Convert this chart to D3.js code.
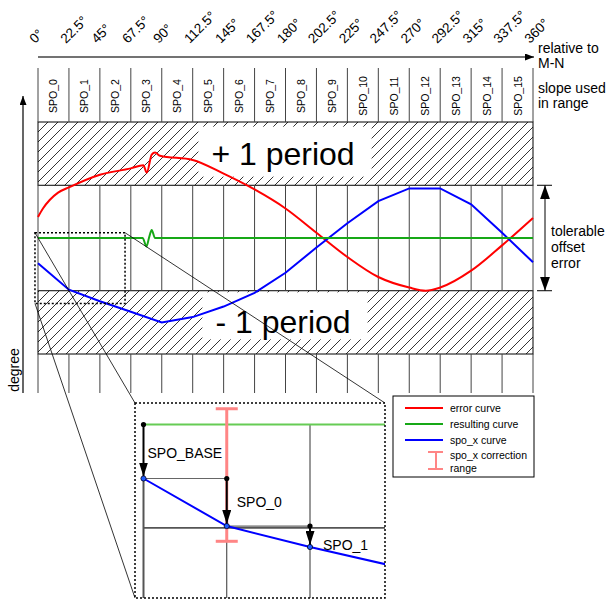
<html>
<head>
<title>spo correction</title>
<script src="https://cdnjs.cloudflare.com/ajax/libs/d3/7.8.5/d3.min.js"></script>
<style>
body { margin: 0; background: #fff; }
svg text { font-family: "Liberation Sans", Arial, sans-serif; fill: #000; }
</style>
</head>
<body>
<div id="vis_container"></div>
<script>

    var width = 610;
    var height = 599;

    // column edges in degrees relative to M-N and the labels written above them
    var columnEdges = [0, 22.5, 45, 67.5, 90, 112.5, 135, 157.5, 180, 202.5, 225, 247.5, 270, 292.5, 315, 337.5, 360];
    var angleLabels = ["0°", "22.5°", "45°", "67.5°", "90°", "112.5°", "145°", "167.5°", "180°", "202.5°",
                       "225°", "247.5°", "270°", "292.5°", "315°", "337.5°", "360°"];
    var spoLabels = ["SPO_0", "SPO_1", "SPO_2", "SPO_3", "SPO_4", "SPO_5", "SPO_6", "SPO_7",
                     "SPO_8", "SPO_9", "SPO_10", "SPO_11", "SPO_12", "SPO_13", "SPO_14", "SPO_15"];

    // curves: [angle in degrees, offset in periods]
    var errorCurve = [[0, 0.20], [3.6, 0.28], [8.5, 0.36], [14.6, 0.43], [22.5, 0.48], [45, 0.60], [67.5, 0.66],
                      [76.6, 0.69], [79.1, 0.62], [82.7, 0.79], [85.1, 0.81], [88.7, 0.78], [112.5, 0.74],
                      [135, 0.61], [157.5, 0.46], [180, 0.28], [202.5, 0.05], [225, -0.18], [247.5, -0.37],
                      [270, -0.47], [282, -0.50], [292.5, -0.47], [315, -0.31], [337.5, -0.07], [360, 0.19]];
    var resultCurve = [[0, 0], [76.1, 0], [78.9, -0.08], [80.7, 0], [82.7, 0.075], [85.1, 0], [360, 0]];
    // spo_x curve, one value per column edge
    var spoValues = [-0.24, -0.49, -0.60, -0.70, -0.80, -0.75, -0.65, -0.52, -0.33, -0.09,
                     0.14, 0.35, 0.47, 0.47, 0.32, 0.05, -0.23];

    var periodBands = [[0.5, 1.1], [-1.1, -0.5]];
    var periodLabels = ["+ 1 period", "- 1 period"];
    var tolerableRange = [-0.5, 0.5];

    // part of the chart shown enlarged below
    var zoomAngles = [-2.2, 63.3];
    var zoomOffsets = [0.05, -0.62];
    var correctionRange = [0.07, -0.57];
    var stepLabels = ["SPO_BASE", "SPO_0", "SPO_1"];

    var legendNames = ["error curve", "resulting curve", "spo_x curve", "spo_x correction", "range"];

    var colors = { error: "#ff0000", result: "#17a817", resultLight: "#66cc55", spo: "#0000ff", range: "#ff8585" };

    var svg = d3.select("#vis_container")
                .append("svg")
                .attr("width", width)
                .attr("height", height);

    var x = d3.scaleLinear().domain([0, 360]).range([38, 533]);
    var y = d3.scaleLinear().domain([-1.1, 1.1]).range([354, 122]);

    var defs = svg.append("defs");
    var hatch = defs.append("pattern")
        .attr("id", "hatch")
        .attr("patternUnits", "userSpaceOnUse")
        .attr("width", 10).attr("height", 10);
    hatch.append("path")
        .attr("d", "M-1,1 l2,-2 M0,10 l10,-10 M9,11 l2,-2")
        .attr("stroke", "#000").attr("stroke-width", 0.8);

    function arrowMarker(id, len, wid) {
        defs.append("marker")
            .attr("id", id)
            .attr("viewBox", "0 0 10 10")
            .attr("preserveAspectRatio", "none")
            .attr("refX", 10).attr("refY", 5)
            .attr("markerUnits", "userSpaceOnUse")
            .attr("markerWidth", len).attr("markerHeight", wid)
            .attr("orient", "auto-start-reverse")
            .append("path")
            .attr("d", "M0,0 L10,5 L0,10 z")
            .attr("fill", "#000");
    }
    arrowMarker("arrowSmall", 9, 7);
    arrowMarker("arrowBig", 14, 10);
    arrowMarker("arrowStep", 14, 9);

    var bandTop = y(tolerableRange[1]);
    var bandBottom = y(tolerableRange[0]);

    // hatched +/- 1 period bands
    var bands = svg.append("g").attr("class", "bands");
    bands.selectAll("rect")
        .data(periodBands)
        .enter().append("rect")
        .attr("x", x(0))
        .attr("y", function(d) { return y(d[1]); })
        .attr("width", x(360) - x(0))
        .attr("height", function(d) { return y(d[0]) - y(d[1]); })
        .attr("fill", "url(#hatch)")
        .attr("stroke", "#000")
        .attr("stroke-width", 1);

    periodBands.forEach(function(d, i) {
        var mid = (y(d[0]) + y(d[1])) / 2;
        var box = bands.append("rect").attr("fill", "#fff");
        var t = bands.append("text")
            .attr("x", 283)
            .attr("y", mid + 11)
            .attr("text-anchor", "middle")
            .style("font-size", "32px")
            .text(periodLabels[i]);
        var bb = t.node().getBBox();
        box.attr("x", bb.x - 13).attr("width", bb.width + 30)
           .attr("y", i == 0 ? mid - 27 : mid - 30).attr("height", i == 0 ? 50 : 47);
    });

    // column lines in the tolerable band and below the bands
    svg.append("g").selectAll("line")
        .data(columnEdges)
        .enter().append("line")
        .attr("x1", function(d) { return x(d); })
        .attr("x2", function(d) { return x(d); })
        .attr("y1", bandTop).attr("y2", bandBottom)
        .attr("stroke", "#444").attr("stroke-width", 1);

    svg.append("g").selectAll("line")
        .data(columnEdges)
        .enter().append("line")
        .attr("x1", function(d) { return x(d); })
        .attr("x2", function(d) { return x(d); })
        .attr("y1", y(periodBands[1][0])).attr("y2", 393)
        .attr("stroke", "#444").attr("stroke-width", 1);

    // slope boxes
    svg.append("g").selectAll("line")
        .data(columnEdges)
        .enter().append("line")
        .attr("x1", function(d) { return x(d); })
        .attr("x2", function(d) { return x(d); })
        .attr("y1", 68).attr("y2", y(periodBands[0][1]))
        .attr("stroke", "#444").attr("stroke-width", 1);

    svg.append("g").selectAll("text")
        .data(spoLabels)
        .enter().append("text")
        .attr("transform", function(d, i) {
            return "translate(" + ((x(columnEdges[i]) + x(columnEdges[i + 1])) / 2 + 4) + ",96) rotate(-90)";
        })
        .attr("text-anchor", "middle")
        .style("font-size", "10.5px")
        .text(function(d) { return d; });

    // top axis
    svg.append("line")
        .attr("x1", x(0)).attr("x2", x(360) + 1)
        .attr("y1", 57).attr("y2", 57)
        .attr("stroke", "#444").attr("stroke-width", 1.3)
        .attr("marker-end", "url(#arrowSmall)");

    svg.append("g").selectAll("text")
        .data(angleLabels)
        .enter().append("text")
        .attr("transform", function(d, i) { return "translate(" + (x(columnEdges[i]) - 3) + ",44) rotate(-45)"; })
        .style("font-size", "13.5px")
        .text(function(d) { return d; });

    var sideText = svg.append("g").style("font-size", "14px");
    [["relative to", 53], ["M-N", 68], ["slope used", 93], ["in range", 108]].forEach(function(d) {
        sideText.append("text").attr("x", 538).attr("y", d[1]).text(d[0]);
    });
    [["tolerable", 236], ["offset", 252], ["error", 268]].forEach(function(d) {
        sideText.append("text").attr("x", 551).attr("y", d[1]).text(d[0]);
    });

    // tolerable offset error arrow
    svg.append("line")
        .attr("x1", 545).attr("x2", 545)
        .attr("y1", bandTop).attr("y2", bandBottom)
        .attr("stroke", "#000").attr("stroke-width", 1)
        .attr("marker-start", "url(#arrowBig)")
        .attr("marker-end", "url(#arrowBig)");
    [bandTop, bandBottom].forEach(function(v) {
        svg.append("line").attr("x1", 537).attr("x2", 552).attr("y1", v).attr("y2", v)
            .attr("stroke", "#000").attr("stroke-width", 1);
    });

    // degree axis
    svg.append("line")
        .attr("x1", 23).attr("x2", 23)
        .attr("y1", 393).attr("y2", 96)
        .attr("stroke", "#000").attr("stroke-width", 1.2)
        .attr("marker-end", "url(#arrowSmall)");
    svg.append("text")
        .attr("transform", "translate(19,370) rotate(-90)")
        .attr("text-anchor", "middle")
        .style("font-size", "14px")
        .text("degree");

    // curves
    var curveLine = d3.line()
        .x(function(d) { return x(d[0]); })
        .y(function(d) { return y(d[1]); })
        .curve(d3.curveMonotoneX);
    var spoLine = d3.line()
        .x(function(d, i) { return x(columnEdges[i]); })
        .y(function(d) { return y(d); });

    svg.append("path").datum(errorCurve).attr("d", curveLine)
        .attr("fill", "none").attr("stroke", colors.error).attr("stroke-width", 2);
    svg.append("path").datum(spoValues).attr("d", spoLine)
        .attr("fill", "none").attr("stroke", colors.spo).attr("stroke-width", 2);
    svg.append("path").datum(resultCurve).attr("d", curveLine)
        .attr("fill", "none").attr("stroke", colors.result).attr("stroke-width", 2);

    // zoom window and its enlarged view
    var zx0 = x(zoomAngles[0]), zx1 = x(zoomAngles[1]);
    var zy0 = y(zoomOffsets[0]), zy1 = y(zoomOffsets[1]);
    var inset = { x0: 135, x1: 385, y0: 403, y1: 598 };

    svg.append("rect")
        .attr("x", zx0).attr("y", zy0)
        .attr("width", zx1 - zx0).attr("height", zy1 - zy0)
        .attr("fill", "none").attr("stroke", "#000")
        .attr("stroke-width", 1.5).attr("stroke-dasharray", "2,2");

    var links = [[zx0, zy0, inset.x0, inset.y0], [zx0, zy1, inset.x0, inset.y1], [zx1, zy0, inset.x1, inset.y0]];
    svg.append("g").selectAll("line")
        .data(links)
        .enter().append("line")
        .attr("x1", function(d) { return d[0]; }).attr("y1", function(d) { return d[1]; })
        .attr("x2", function(d) { return d[2]; }).attr("y2", function(d) { return d[3]; })
        .attr("stroke", "#000").attr("stroke-width", 0.8);

    var xIn = d3.scaleLinear().domain([0, 45]).range([143.5, 310]);
    var yIn = d3.scaleLinear().domain([0, spoValues[0], spoValues[2]]).range([424.5, 478.5, 547]);

    defs.append("clipPath").attr("id", "insetClip")
        .append("rect")
        .attr("x", inset.x0).attr("y", inset.y0)
        .attr("width", inset.x1 - inset.x0).attr("height", inset.y1 - inset.y0);

    var zoomG = svg.append("g").attr("clip-path", "url(#insetClip)");

    // band edge and column lines
    zoomG.append("line")
        .attr("x1", xIn(0)).attr("x2", inset.x1)
        .attr("y1", yIn(tolerableRange[0])).attr("y2", yIn(tolerableRange[0]))
        .attr("stroke", "#555").attr("stroke-width", 1.8);
    zoomG.append("line")
        .attr("x1", xIn(0)).attr("x2", xIn(0))
        .attr("y1", yIn(spoValues[0])).attr("y2", inset.y1)
        .attr("stroke", "#555").attr("stroke-width", 2);
    zoomG.selectAll(".col")
        .data(columnEdges.slice(1, 3))
        .enter().append("line")
        .attr("class", "col")
        .attr("x1", function(d) { return xIn(d); }).attr("x2", function(d) { return xIn(d); })
        .attr("y1", yIn(0)).attr("y2", inset.y1)
        .attr("stroke", "#333").attr("stroke-width", 1);

    // step reference lines
    zoomG.append("line")
        .attr("x1", xIn(0)).attr("x2", xIn(columnEdges[1]))
        .attr("y1", yIn(spoValues[0])).attr("y2", yIn(spoValues[0]))
        .attr("stroke", "#666").attr("stroke-width", 1.2);
    zoomG.append("line")
        .attr("x1", xIn(columnEdges[1])).attr("x2", xIn(columnEdges[2]))
        .attr("y1", yIn(spoValues[1])).attr("y2", yIn(spoValues[1]))
        .attr("stroke", "#666").attr("stroke-width", 1.2);

    // resulting curve
    zoomG.append("line")
        .attr("x1", xIn(0) + 2).attr("x2", inset.x1)
        .attr("y1", yIn(0)).attr("y2", yIn(0))
        .attr("stroke", colors.resultLight).attr("stroke-width", 2);

    // correction range
    var rx = xIn(columnEdges[1]);
    zoomG.append("line")
        .attr("x1", rx).attr("x2", rx)
        .attr("y1", yIn(correctionRange[0])).attr("y2", yIn(correctionRange[1]))
        .attr("stroke", colors.range).attr("stroke-width", 3);
    correctionRange.forEach(function(v) {
        zoomG.append("line")
            .attr("x1", rx - 11).attr("x2", rx + 11)
            .attr("y1", yIn(v)).attr("y2", yIn(v))
            .attr("stroke", colors.range).attr("stroke-width", 3);
    });

    // spo curve enlarged
    var spoIn = d3.line()
        .x(function(d, i) { return xIn(columnEdges[i]); })
        .y(function(d) { return yIn(d); });
    zoomG.append("path").datum(spoValues.slice(0, 5)).attr("d", spoIn)
        .attr("fill", "none").attr("stroke", colors.spo).attr("stroke-width", 2);

    // step arrows: from previous level down to the spo point
    var steps = [
        { a: 0, from: 0, to: spoValues[0] },
        { a: columnEdges[1], from: spoValues[0], to: spoValues[1] },
        { a: columnEdges[2], from: spoValues[1], to: spoValues[2] }
    ];
    zoomG.selectAll(".step")
        .data(steps)
        .enter().append("line")
        .attr("class", "step")
        .attr("x1", function(d) { return xIn(d.a); }).attr("x2", function(d) { return xIn(d.a); })
        .attr("y1", function(d) { return yIn(d.from); })
        .attr("y2", function(d) { return yIn(d.to) - 2; })
        .attr("stroke", "#000").attr("stroke-width", 2)
        .attr("marker-end", "url(#arrowStep)");
    zoomG.selectAll(".start")
        .data(steps)
        .enter().append("circle")
        .attr("cx", function(d) { return xIn(d.a); })
        .attr("cy", function(d) { return yIn(d.from); })
        .attr("r", 2.6).attr("fill", "#000");
    zoomG.selectAll(".end")
        .data(steps)
        .enter().append("circle")
        .attr("cx", function(d) { return xIn(d.a); })
        .attr("cy", function(d) { return yIn(d.to); })
        .attr("r", 2.6).attr("fill", "#1e5cff").attr("stroke", "#002").attr("stroke-width", 0.8);

    zoomG.selectAll(".steplabel")
        .data(steps)
        .enter().append("text")
        .attr("x", function(d, i) { return xIn(d.a) + [4, 10, 13][i]; })
        .attr("y", function(d, i) { return [458, 507, 550][i]; })
        .style("font-size", "14px")
        .text(function(d, i) { return stepLabels[i]; });

    svg.append("rect")
        .attr("x", inset.x0).attr("y", inset.y0)
        .attr("width", inset.x1 - inset.x0).attr("height", inset.y1 - inset.y0)
        .attr("fill", "none").attr("stroke", "#000")
        .attr("stroke-width", 1.5).attr("stroke-dasharray", "2,2");

    // legend
    var legend = svg.append("g").attr("class", "legend");
    legend.append("rect")
        .attr("x", 393).attr("y", 396).attr("width", 141).attr("height", 81)
        .attr("fill", "#fff").attr("stroke", "#000").attr("stroke-width", 1);
    [colors.error, colors.result, colors.spo].forEach(function(c, i) {
        legend.append("line")
            .attr("x1", 405).attr("x2", 443)
            .attr("y1", 408 + i * 16).attr("y2", 408 + i * 16)
            .attr("stroke", c).attr("stroke-width", 2);
    });
    legend.append("line").attr("x1", 436).attr("x2", 436).attr("y1", 452).attr("y2", 469)
        .attr("stroke", colors.range).attr("stroke-width", 2);
    [452, 469].forEach(function(v) {
        legend.append("line").attr("x1", 428).attr("x2", 443).attr("y1", v).attr("y2", v)
            .attr("stroke", colors.range).attr("stroke-width", 2);
    });
    legend.selectAll("text")
        .data(legendNames)
        .enter().append("text")
        .attr("x", 450)
        .attr("y", function(d, i) { return [412, 428, 444, 459, 472][i]; })
        .style("font-size", "10.5px")
        .text(function(d) { return d; });

</script>
</body>
</html>
